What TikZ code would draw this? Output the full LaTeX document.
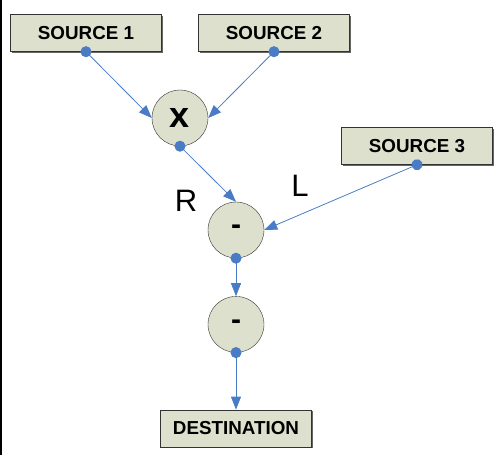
\documentclass[tikz,border=0pt]{standalone}
\usepackage{fontspec}
\setmainfont{Liberation Sans}
\usetikzlibrary{arrows.meta, positioning, shadows}
\definecolor{boxfill}{HTML}{DDE0CC}
\definecolor{linkblue}{HTML}{4A7CC6}

\begin{document}
\begin{tikzpicture}[
						x=1pt, y=-1pt,
						source/.style = {draw=black!80, fill=boxfill, rectangle, minimum width=151pt, minimum height=37pt, font=\fontsize{18.8pt}{18.8pt}\selectfont\bfseries, drop shadow={shadow xshift=1.5pt, shadow yshift=-1.5pt, fill=black!60, opacity=1}},
						op/.style = {draw=black!80, fill=boxfill, circle, minimum size=56pt, inner sep=0pt, font=\fontsize{30pt}{30pt}\selectfont\bfseries},
						side/.style = {font=\fontsize{31pt}{31pt}\selectfont},
						link/.style = {linkblue, line width=0.8pt, {Circle[length=11pt]}-{Triangle[length=13pt, width=10pt]}, shorten <=-5.5pt}
					]
\useasboundingbox (0,0) rectangle (503,455);
\draw[line width=1.5pt] (0.75,0) -- (0.75,455);

\node[source] (s1) at (86,33) {SOURCE 1};
\node[source] (s2) at (274,33) {SOURCE 2};
\node[op, font=\fontsize{36pt}{36pt}\selectfont\bfseries] (mul) at (180,118) {x};
\node[source] (s3) at (417,146) {SOURCE 3};
\node[op] (sub1) at (236,230) {-};
\node[op] (sub2) [below=38pt of sub1] {-};
\node[source] (dest) [below=57pt of sub2] {DESTINATION};
\node[side] (r) at (186,201) {R};
\node[side] (l) at (300,186) {L};

\draw[link] (s1.south) -- (mul.west);
\draw[link] (s2.south) -- (mul.east);
\draw[link] (mul.south) -- (sub1.north);
\draw[link] (s3.south) -- (sub1.east);
\draw[link] (sub1.south) -- (sub2.north);
\draw[link] (sub2.south) -- (dest.north);
\end{tikzpicture}
\end{document}
